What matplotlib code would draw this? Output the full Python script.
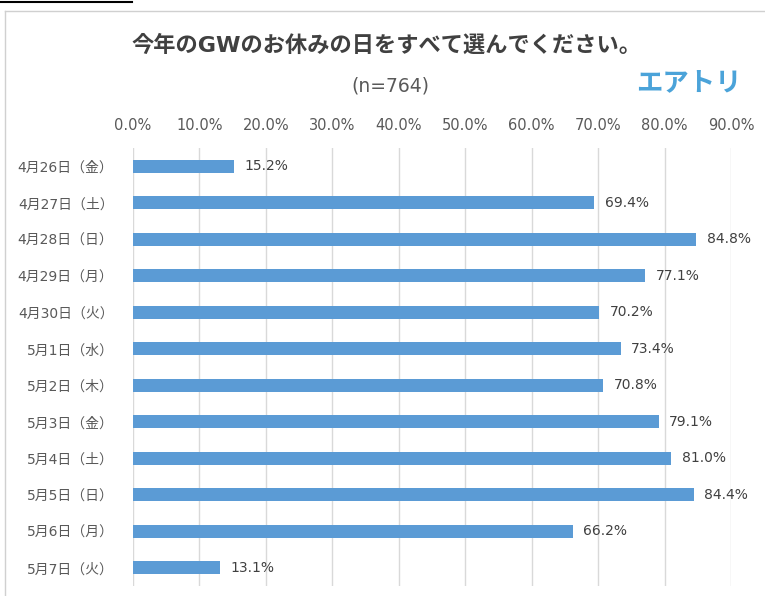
import numpy as np
import matplotlib.pyplot as plt
from matplotlib.lines import Line2D

plt.rcParams['font.family'] = ['DejaVu Sans', 'Noto Sans CJK JP']

days = ['4月26日（金）', '4月27日（土）', '4月28日（日）', '4月29日（月）', '4月30日（火）',
        '5月1日（水）', '5月2日（木）', '5月3日（金）', '5月4日（土）', '5月5日（日）',
        '5月6日（月）', '5月7日（火）']
rates = [15.2, 69.4, 84.8, 77.1, 70.2, 73.4, 70.8, 79.1, 81.0, 84.4, 66.2, 13.1]
ticks = [0, 10, 20, 30, 40, 50, 60, 70, 80, 90]

W, H = 765, 596
fig = plt.figure(figsize=(W / 100, H / 100), dpi=100)
ax = fig.add_axes([133 / W, 1 - 586 / H, (731 - 133) / W, (586 - 148) / H])

y = np.arange(len(days))
ax.barh(y, rates, height=0.36, color='#5b9bd5', zorder=3)
for yi, v in zip(y, rates):
    ax.text(v + 1.6, yi, f'{v:.1f}%', va='center', ha='left', fontsize=10, color='#404040')

ax.set_xlim(0, 90)
ax.set_ylim(len(days) - 0.5, -0.5)
ax.set_yticks(y)
ax.set_yticklabels(days, fontsize=10, color='#595959')
ax.set_xticks(ticks)
ax.set_xticklabels([f'{t:.1f}%' for t in ticks], fontsize=10.5, color='#595959')
ax.xaxis.tick_top()
ax.tick_params(length=0)
ax.tick_params(axis='x', pad=11)
ax.tick_params(axis='y', pad=14)
ax.grid(axis='x', color='#d9d9d9', linewidth=1, zorder=0)
for s in ax.spines.values():
    s.set_visible(False)

fig.text(386 / W, 1 - 45 / H, '今年のGWのお休みの日をすべて選んでください。', ha='center', va='center',
         fontsize=16, fontweight='bold', color='#404040')
fig.text(390 / W, 1 - 86 / H, '(n=764)', ha='center', va='center', fontsize=13.5, color='#595959')
fig.text(689 / W, 1 - 83 / H, 'エアトリ', ha='center', va='center', fontsize=19,
         fontweight='bold', color='#4ba3d9')

# frame and top line
fig.add_artist(Line2D([5 / W, 5 / W], [0, 1 - 11 / H], color='#d0d0d0', lw=1))
fig.add_artist(Line2D([5 / W, 1], [1 - 11 / H, 1 - 11 / H], color='#d0d0d0', lw=1))
fig.add_artist(Line2D([0, 132 / W], [1 - 2 / H, 1 - 2 / H], color='black', lw=1.5))

fig.savefig('out.png', dpi=100)
